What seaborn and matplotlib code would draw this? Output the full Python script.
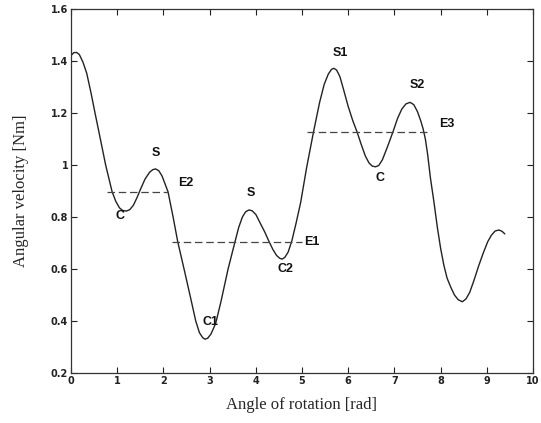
import matplotlib
matplotlib.use("Agg")
import matplotlib.pyplot as plt
import seaborn as sns
import pandas as pd

angle = [0.01, 0.06, 0.12, 0.18, 0.26, 0.34, 0.43, 0.52, 0.64, 0.75, 0.89, 0.97, 1.05,
         1.12, 1.2, 1.27, 1.35, 1.43, 1.5, 1.6, 1.7, 1.77, 1.83, 1.9, 1.97, 2.03, 2.10,
         2.21, 2.31, 2.46, 2.6, 2.7, 2.78, 2.85, 2.9, 2.96, 3.03, 3.13, 3.24, 3.4, 3.55,
         3.63, 3.71, 3.78, 3.85, 3.92, 4.0, 4.1, 4.2, 4.28, 4.37, 4.45, 4.52, 4.57, 4.63, 4.7,
         4.78, 4.87, 4.97, 5.1, 5.25, 5.38, 5.48, 5.57, 5.64, 5.69, 5.75, 5.82, 5.9, 6.0,
         6.1, 6.19, 6.28, 6.37, 6.45, 6.52, 6.59, 6.66, 6.74, 6.85, 6.97, 7.07, 7.16,
         7.25, 7.34, 7.42, 7.5, 7.57, 7.62, 7.67, 7.72, 7.78, 7.85, 7.93, 8.0, 8.07, 8.14,
         8.22, 8.3, 8.38, 8.47, 8.55, 8.63, 8.72, 8.82, 8.92, 9.02, 9.1, 9.18, 9.26,
         9.33, 9.39]
velocity = [1.423, 1.432, 1.433, 1.425, 1.395, 1.353, 1.28, 1.2, 1.096, 1.0, 0.897, 0.86, 0.835,
            0.825, 0.823, 0.828, 0.845, 0.875, 0.905, 0.945, 0.972, 0.982, 0.985, 0.978, 0.958,
            0.93, 0.897, 0.80, 0.705, 0.59, 0.48, 0.40, 0.355, 0.336, 0.330, 0.334, 0.35,
            0.39, 0.47, 0.60, 0.705, 0.76, 0.80, 0.82, 0.827, 0.824, 0.81, 0.775, 0.74, 0.708,
            0.675, 0.652, 0.641, 0.638, 0.645, 0.665, 0.708, 0.775, 0.855, 0.99, 1.128, 1.24,
            1.31, 1.35, 1.368, 1.372, 1.365, 1.34, 1.29, 1.225, 1.17, 1.128, 1.08, 1.035,
            1.008, 0.996, 0.993, 0.998, 1.02, 1.07, 1.128, 1.18, 1.215, 1.235, 1.241, 1.232,
            1.205, 1.17, 1.14, 1.10, 1.04, 0.95, 0.865, 0.76, 0.68, 0.615, 0.565, 0.53, 0.50,
            0.482, 0.474, 0.485, 0.51, 0.555, 0.61, 0.66, 0.705, 0.73, 0.746, 0.75, 0.745,
            0.735]

energy_levels = [0.897, 0.705, 1.128]
energy_start = [0.78, 2.19, 5.10]
energy_end = [2.09, 4.99, 7.79]

labels = ["S", "E2", "C", "S", "C1", "C2", "E1", "S1", "S2", "E3", "C"]
label_x = [1.84, 2.49, 1.07, 3.9, 3.01, 4.64, 5.21, 5.82, 7.49, 8.14, 6.68]
label_y = [1.045, 0.929, 0.804, 0.891, 0.397, 0.599, 0.705, 1.43, 1.308, 1.158, 0.949]

xticks = [0, 1, 2, 3, 4, 5, 6, 7, 8, 9, 10]
yticks = [0.2, 0.4, 0.6, 0.8, 1.0, 1.2, 1.4, 1.6]
ytick_labels = ["0.2", "0.4", "0.6", "0.8", "1", "1.2", "1.4", "1.6"]

sns.set_theme(style="ticks")
plt.rcParams["font.family"] = ["DejaVu Sans"]

fig = plt.figure(figsize=(5.41, 4.23), dpi=100)
ax = fig.add_axes([71 / 541, 50 / 423, 462 / 541, 364 / 423])

df = pd.DataFrame({"angle": angle, "velocity": velocity})
sns.lineplot(data=df, x="angle", y="velocity", ax=ax, color="#222222", linewidth=1.0,
             sort=False, estimator=None)

for lvl, x0, x1 in zip(energy_levels, energy_start, energy_end):
    ax.plot([x0, x1], [lvl, lvl], color="#444444", linewidth=0.9, dashes=(6, 3))

for t, x, y in zip(labels, label_x, label_y):
    ax.text(x, y, t, ha="center", va="center", fontsize=9, fontfamily="Liberation Sans",
            fontweight="bold", color="#111111")

ax.set_xlim(0, 10)
ax.set_ylim(0.2, 1.6)
ax.set_xticks(xticks)
ax.set_xticklabels([str(t) for t in xticks])
ax.set_yticks(yticks)
ax.set_yticklabels(ytick_labels)
ax.tick_params(direction="in", length=4, width=0.8, top=True, right=True,
               labelsize=7, pad=2, colors="#222222")
for lab in ax.get_xticklabels() + ax.get_yticklabels():
    lab.set_fontweight("bold")
for s in ax.spines.values():
    s.set_linewidth(0.9)
    s.set_color("#333333")

ax.set_xlabel("Angle of rotation [rad]", fontfamily="Liberation Serif", fontsize=12, labelpad=8)
ax.set_ylabel("Angular velocity [Nm]", fontfamily="Liberation Serif", fontsize=12, labelpad=16)

fig.savefig("out.png", dpi=100)
